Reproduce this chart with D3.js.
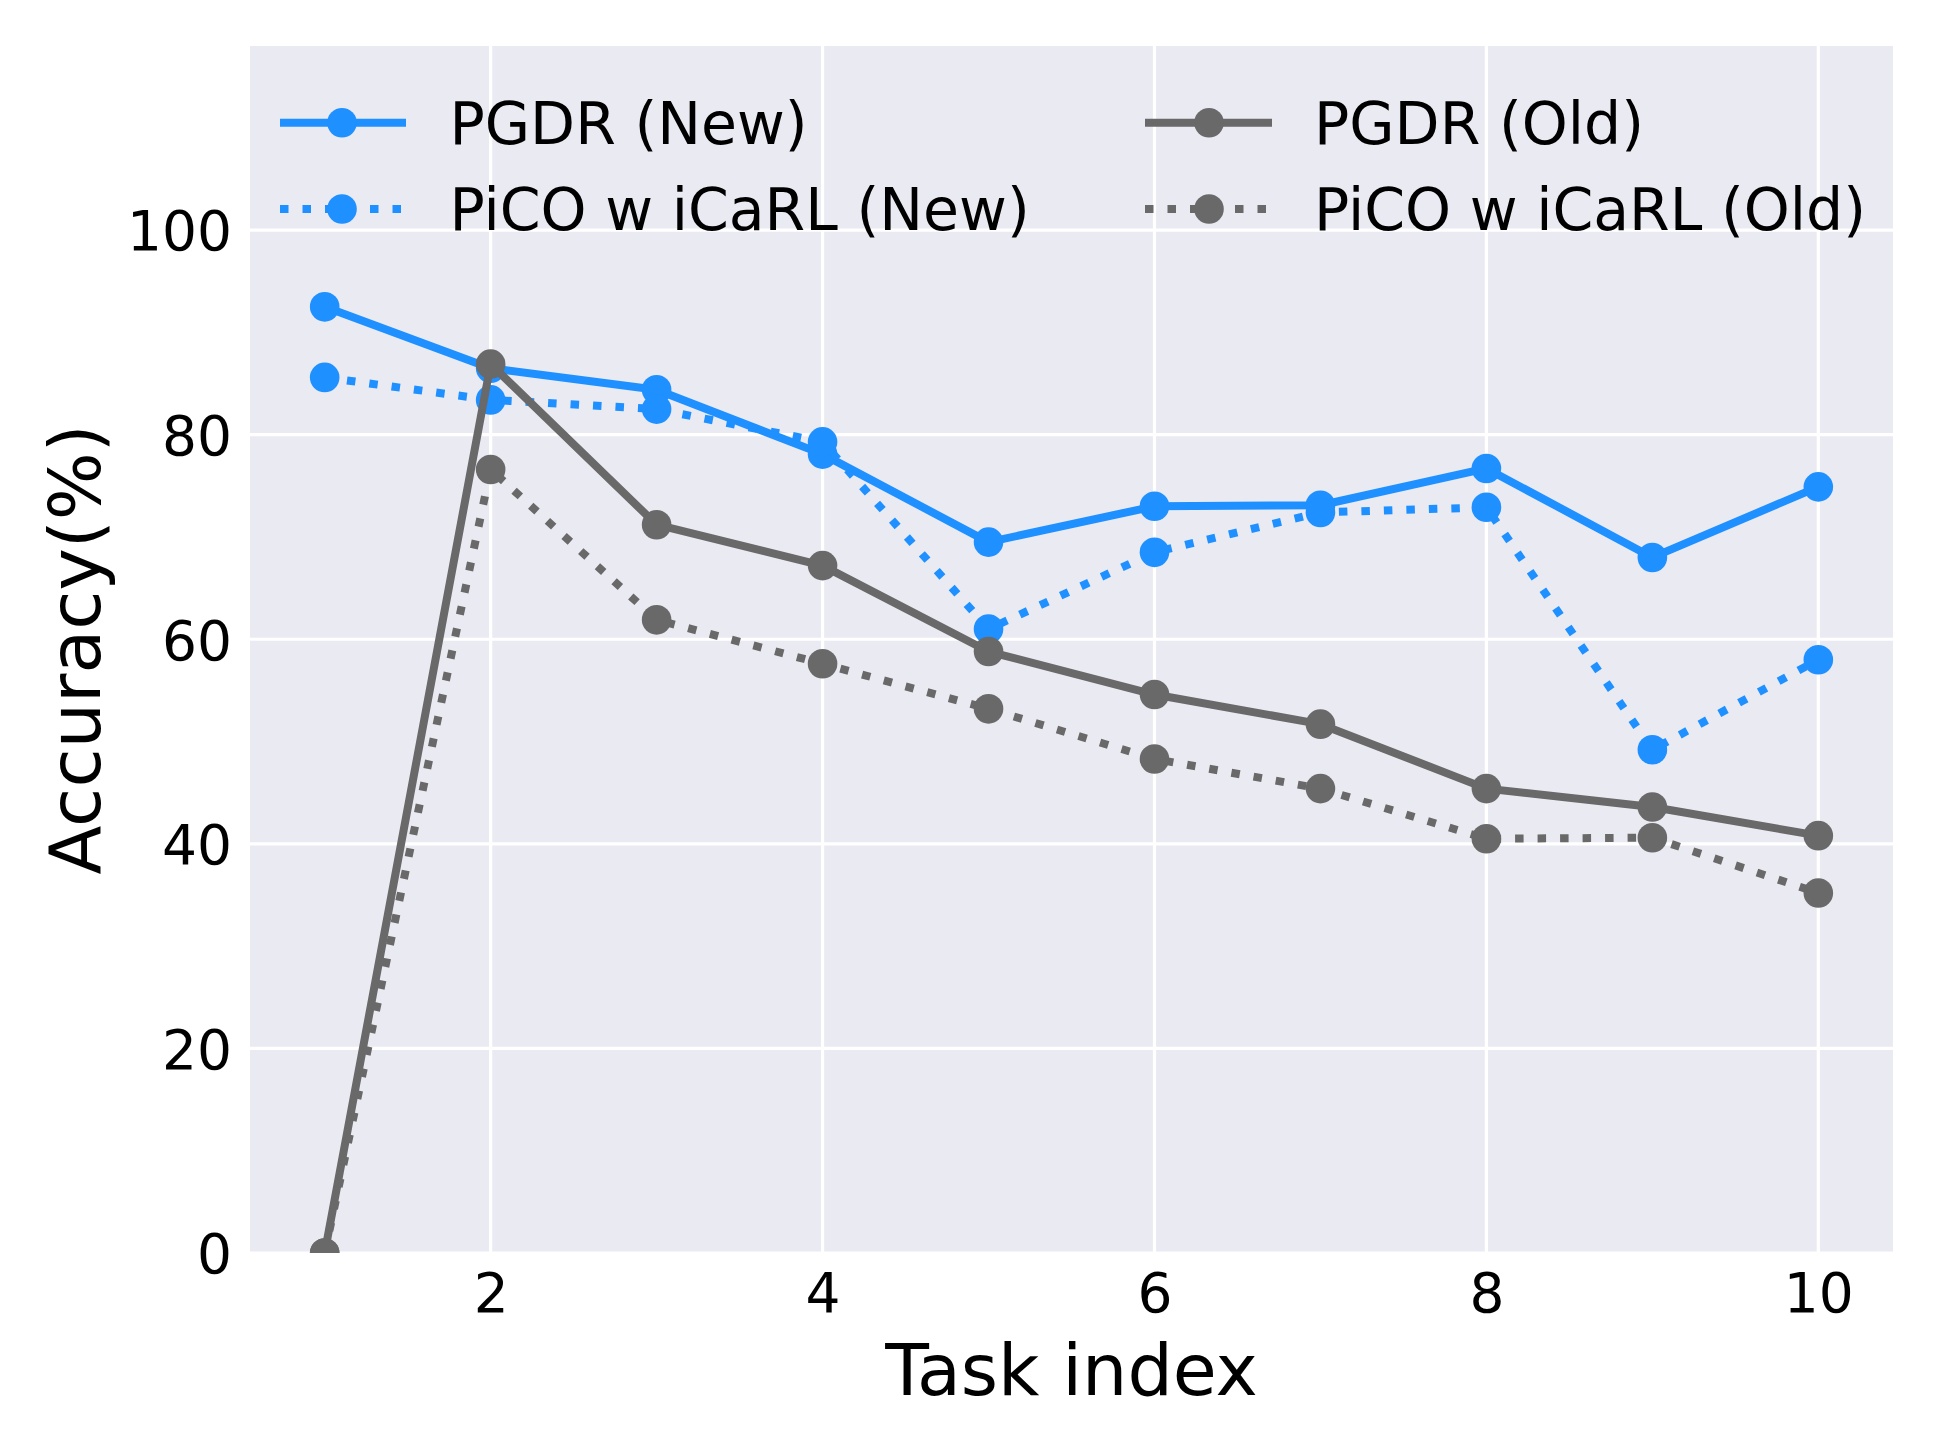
<!DOCTYPE html>
<html>
<head>
<meta charset="utf-8">
<script src="https://cdn.jsdelivr.net/npm/d3@7"></script>
<style>
  html, body { margin: 0; padding: 0; background: #ffffff; }
  svg { display: block; }
  text { font-family: "DejaVu Sans", sans-serif; fill: #000; }
</style>
</head>
<body>
<svg id="chart" width="1937" height="1453"></svg>
<script>
// ---- data ----
const tasks = [1, 2, 3, 4, 5, 6, 7, 8, 9, 10];
const pgdrNew = [92.5, 86.5, 84.4, 78.1, 69.5, 73.0, 73.1, 76.7, 68.0, 74.9];
const picoNew = [85.6, 83.4, 82.5, 79.3, 61.0, 68.5, 72.4, 72.9, 49.2, 58.0];
const pgdrOld = [0.0, 86.9, 71.2, 67.2, 58.8, 54.6, 51.7, 45.4, 43.6, 40.8];
const picoOld = [0.0, 76.6, 61.9, 57.6, 53.2, 48.3, 45.4, 40.5, 40.6, 35.2];
const seriesNames = ["PGDR (New)", "PiCO w iCaRL (New)", "PGDR (Old)", "PiCO w iCaRL (Old)"];
const xTicks = [2, 4, 6, 8, 10];
const yTicks = [0, 20, 40, 60, 80, 100];
const xLabel = "Task index";
const yLabel = "Accuracy(%)";

// ---- layout & style ----
const W = 1937, H = 1453;
const plot = { left: 250, right: 1893, top: 46, bottom: 1253 };
const BLUE = "#1E90FF", GRAY = "#696969";
const LW = 8, R = 14.8, DOT = "8.5,14";
const series = [
  { name: seriesNames[0], values: pgdrNew, color: BLUE, dash: null },
  { name: seriesNames[1], values: picoNew, color: BLUE, dash: DOT },
  { name: seriesNames[2], values: pgdrOld, color: GRAY, dash: null },
  { name: seriesNames[3], values: picoOld, color: GRAY, dash: DOT }
];

const svg = d3.select("#chart");
svg.append("rect").attr("width", W).attr("height", H).attr("fill", "#ffffff");

const x = d3.scaleLinear().domain([0.55, 10.45]).range([plot.left, plot.right]);
const y = d3.scaleLinear().domain([0, 118]).range([plot.bottom, plot.top]);

svg.append("defs").append("clipPath").attr("id", "clip")
  .append("rect")
  .attr("x", plot.left).attr("y", plot.top)
  .attr("width", plot.right - plot.left).attr("height", plot.bottom - plot.top);

// background
svg.append("rect")
  .attr("x", plot.left).attr("y", plot.top)
  .attr("width", plot.right - plot.left).attr("height", plot.bottom - plot.top)
  .attr("fill", "#EAEAF2");

// grid
const grid = svg.append("g");
grid.selectAll("line.gx").data(xTicks).join("line")
  .attr("x1", d => x(d)).attr("x2", d => x(d))
  .attr("y1", plot.top).attr("y2", plot.bottom)
  .attr("stroke", "#ffffff").attr("stroke-width", 3.2);
grid.selectAll("line.gy").data(yTicks).join("line")
  .attr("y1", d => y(d)).attr("y2", d => y(d))
  .attr("x1", plot.left).attr("x2", plot.right)
  .attr("stroke", "#ffffff").attr("stroke-width", 3.2);

// axes (labels only, no ticks/spines)
const xAxis = d3.axisBottom(x).tickValues(xTicks).tickSize(0).tickPadding(0).tickFormat(d3.format("d"));
const gx = svg.append("g").attr("transform", `translate(0,${plot.bottom})`).call(xAxis);
gx.select(".domain").remove();
gx.selectAll("text")
  .attr("y", 59).attr("dy", null)
  .attr("font-size", 55).attr("font-family", "DejaVu Sans").attr("fill", "#000");

const yAxis = d3.axisLeft(y).tickValues(yTicks).tickSize(0).tickPadding(0).tickFormat(d3.format("d"));
const gy = svg.append("g").attr("transform", `translate(${plot.left},0)`).call(yAxis);
gy.select(".domain").remove();
gy.selectAll("text")
  .attr("x", -18).attr("dy", "0.36em")
  .attr("font-size", 55).attr("font-family", "DejaVu Sans").attr("fill", "#000");

// axis labels
svg.append("text")
  .attr("x", (plot.left + plot.right) / 2).attr("y", 1395)
  .attr("text-anchor", "middle").attr("font-size", 71.5)
  .text(xLabel);
svg.append("text")
  .attr("transform", `translate(100,${(plot.top + plot.bottom) / 2}) rotate(-90)`)
  .attr("text-anchor", "middle").attr("font-size", 71.5)
  .text(yLabel);

// series
const line = d3.line().x((d, i) => x(tasks[i])).y(d => y(d));
const data = svg.append("g").attr("clip-path", "url(#clip)");
series.forEach(s => {
  const g = data.append("g");
  g.append("path")
    .attr("d", line(s.values))
    .attr("fill", "none")
    .attr("stroke", s.color)
    .attr("stroke-width", LW)
    .attr("stroke-linejoin", "round")
    .attr("stroke-linecap", s.dash ? "butt" : "round")
    .attr("stroke-dasharray", s.dash);
  g.selectAll("circle").data(s.values).join("circle")
    .attr("cx", (d, i) => x(tasks[i]))
    .attr("cy", d => y(d))
    .attr("r", R)
    .attr("fill", s.color);
});

// legend (2 columns, column-major)
const legendCols = [{ lx0: 280, lx1: 406, mx: 342, tx: 449.5 }, { lx0: 1145, lx1: 1272, mx: 1209, tx: 1314 }];
const legendRows = [122.7, 209];
const leg = svg.append("g");
series.forEach((s, k) => {
  const c = legendCols[Math.floor(k / 2)];
  const ry = legendRows[k % 2];
  const g = leg.append("g");
  g.append("line")
    .attr("x1", c.lx0).attr("x2", c.lx1).attr("y1", ry).attr("y2", ry)
    .attr("stroke", s.color).attr("stroke-width", LW)
    .attr("stroke-dasharray", s.dash)
    .attr("stroke-linecap", "butt");
  g.append("circle").attr("cx", c.mx).attr("cy", ry).attr("r", R).attr("fill", s.color);
  g.append("text")
    .attr("x", c.tx).attr("y", ry + 21.3)
    .attr("font-size", 58.5)
    .text(s.name);
});
</script>
</body>
</html>
